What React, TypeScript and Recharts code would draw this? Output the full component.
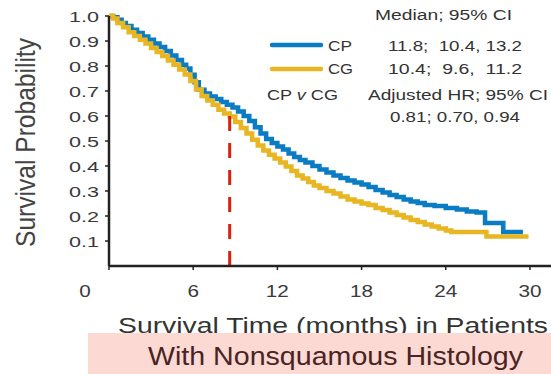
import React from 'react';
import { LineChart, Line, XAxis, YAxis, ReferenceLine } from 'recharts';

// Kaplan-Meier estimates, [months, survival probability]
const cpCurve: [number, number][] = [
  [0, 1.0], [0.3, 0.995], [0.6, 0.985], [0.9, 0.972], [1.2, 0.96], [1.6, 0.945],
  [2.0, 0.932], [2.4, 0.918], [2.8, 0.905], [3.2, 0.89], [3.6, 0.876], [4.0, 0.86],
  [4.4, 0.842], [4.8, 0.824], [5.2, 0.805], [5.5, 0.79], [5.8, 0.765], [6.1, 0.735],
  [6.4, 0.705], [6.8, 0.69], [7.2, 0.678], [7.6, 0.668], [8.0, 0.656], [8.4, 0.645],
  [8.8, 0.634], [9.2, 0.618], [9.6, 0.6], [10.0, 0.58], [10.4, 0.555], [10.8, 0.53],
  [11.2, 0.508], [11.6, 0.492], [12.0, 0.478], [12.4, 0.466], [12.8, 0.45], [13.2, 0.436],
  [13.6, 0.424], [14.0, 0.414], [14.5, 0.4], [15.0, 0.386], [15.5, 0.374], [16.0, 0.362],
  [16.5, 0.352], [17.0, 0.342], [17.5, 0.334], [18.0, 0.326], [18.5, 0.316], [19.0, 0.304],
  [19.5, 0.294], [20.0, 0.284], [20.5, 0.276], [21.0, 0.266], [21.5, 0.258], [22.0, 0.252],
  [22.5, 0.244], [23.2, 0.24], [24.0, 0.232], [24.8, 0.226], [25.5, 0.218], [26.2, 0.214],
  [26.8, 0.172], [28.1, 0.136], [29.5, 0.136],
];

const cgCurve: [number, number][] = [
  [0, 1.0], [0.3, 0.99], [0.6, 0.972], [1.0, 0.955], [1.4, 0.935], [1.8, 0.92],
  [2.2, 0.905], [2.6, 0.89], [3.0, 0.872], [3.4, 0.856], [3.8, 0.84], [4.2, 0.822],
  [4.6, 0.805], [5.0, 0.786], [5.4, 0.766], [5.8, 0.74], [6.2, 0.706], [6.6, 0.68],
  [7.0, 0.662], [7.4, 0.645], [7.8, 0.625], [8.2, 0.61], [8.6, 0.598], [9.0, 0.576],
  [9.4, 0.552], [9.8, 0.53], [10.2, 0.505], [10.6, 0.482], [11.0, 0.462], [11.4, 0.445],
  [11.8, 0.43], [12.2, 0.414], [12.6, 0.398], [13.0, 0.38], [13.4, 0.362], [13.8, 0.35],
  [14.2, 0.336], [14.6, 0.322], [15.0, 0.312], [15.5, 0.3], [16.0, 0.29], [16.5, 0.278],
  [17.0, 0.266], [17.5, 0.258], [18.0, 0.25], [18.5, 0.244], [19.0, 0.232], [19.5, 0.224],
  [20.0, 0.214], [20.5, 0.204], [21.0, 0.194], [21.5, 0.184], [22.0, 0.176], [22.5, 0.166],
  [23.0, 0.158], [23.5, 0.15], [24.0, 0.142], [24.4, 0.136], [26.9, 0.118], [29.9, 0.118],
];

const monthTicks = [0, 6, 12, 18, 24, 30];
const probTicks = [0.1, 0.2, 0.3, 0.4, 0.5, 0.6, 0.7, 0.8, 0.9, 1.0];

const markerMonth = 8.6;
const markerProb = 0.6;

const cpData = cpCurve.map(([t, s]) => ({ t, s }));
const cgData = cgCurve.map(([t, s]) => ({ t, s }));

const FONT = '"Liberation Sans", Arial, sans-serif';
const BLUE = '#0a7cc4';
const GOLD = '#e8b622';

const YTick = (props: any) => {
  const { x, y, payload } = props;
  return (
    <text x={x} y={y} dy={5.5} textAnchor="end" fontSize={15} fontFamily={FONT} fill="#3a3a3a"
      textLength={30} lengthAdjust="spacingAndGlyphs">
      {payload.value.toFixed(1)}
    </text>
  );
};

const XTick = (props: any) => {
  const { x, payload } = props;
  const label = String(payload.value);
  // origin label sits left of the corner
  const cx = payload.value === 0 ? x - 24 : x;
  return (
    <text x={cx} y={297} textAnchor="middle" fontSize={16} fontFamily={FONT} fill="#3a3a3a"
      textLength={label.length * 11.5} lengthAdjust="spacingAndGlyphs">
      {label}
    </text>
  );
};

const T = ({ x, y, w, size = 14, children, fill = '#333' }: any) => (
  <text x={x} y={y} fontSize={size} fontFamily={FONT} fill={fill} textLength={w}
    lengthAdjust="spacingAndGlyphs" style={{ whiteSpace: 'pre' }}>
    {children}
  </text>
);

export default function App() {
  return (
    <div style={{ position: 'absolute', left: 0, top: 0, width: 551, height: 374, background: '#fff' }}>
      <LineChart width={551} height={374} margin={{ top: 16, right: 0, bottom: 78, left: 0 }}>
        <XAxis dataKey="t" type="number" domain={[0, 31.5]} ticks={monthTicks} allowDataOverflow
          axisLine={{ stroke: '#222', strokeWidth: 2.5 }} tickLine={{ stroke: '#222', strokeWidth: 1.5 }}
          tickSize={4} height={30} tick={<XTick />} />
        <YAxis type="number" domain={[0, 1]} ticks={probTicks} width={109}
          axisLine={{ stroke: '#222', strokeWidth: 2.5 }} tickLine={{ stroke: '#222', strokeWidth: 1.5 }}
          tickSize={4} tickMargin={6} tick={<YTick />} />
        <Line data={cpData} dataKey="s" type="stepAfter" stroke={BLUE} strokeWidth={4.5}
          dot={false} activeDot={false} isAnimationActive={false} />
        <Line data={cgData} dataKey="s" type="stepAfter" stroke={GOLD} strokeWidth={4.5}
          dot={false} activeDot={false} isAnimationActive={false} />
        <ReferenceLine segment={[{ x: markerMonth, y: markerProb }, { x: markerMonth, y: 0 }]}
          stroke="#d8220e" strokeWidth={3} strokeDasharray="15 12" />
      </LineChart>

      <svg width={551} height={374} style={{ position: 'absolute', left: 0, top: 0, pointerEvents: 'none' }}>
        <text transform="translate(35,142.5) rotate(-90)" textAnchor="middle" fontSize={28}
          fontFamily={FONT} fill="#444" textLength={209} lengthAdjust="spacingAndGlyphs">
          Survival Probability
        </text>

        <T x={375} y={20} w={137}>Median; 95% CI</T>
        <line x1={272} y1={45} x2={321} y2={45} stroke={BLUE} strokeWidth={4.5} strokeLinecap="round" />
        <T x={328} y={51} w={24}>CP</T>
        <T x={388} y={51} w={134}>11.8;  10.4, 13.2</T>
        <line x1={272} y1={69} x2={321} y2={69} stroke={GOLD} strokeWidth={4.5} strokeLinecap="round" />
        <T x={328} y={74} w={25}>CG</T>
        <T x={388} y={74} w={134}>10.4;  9.6,  11.2</T>
        <T x={267} y={100} w={71}>CP <tspan fontStyle="italic">v</tspan> CG</T>
        <T x={368} y={100} w={180}>Adjusted HR; 95% CI</T>
        <T x={390} y={122} w={130}>0.81; 0.70, 0.94</T>

        <T x={118} y={333} w={430} size={22}>Survival Time (months) in Patients</T>
        <rect x={88} y={333} width={463} height={41} fill="#fcd9d3" />
        <T x={148} y={365} w={375} size={25} fill="#4a2424">With Nonsquamous Histology</T>
      </svg>
    </div>
  );
}
